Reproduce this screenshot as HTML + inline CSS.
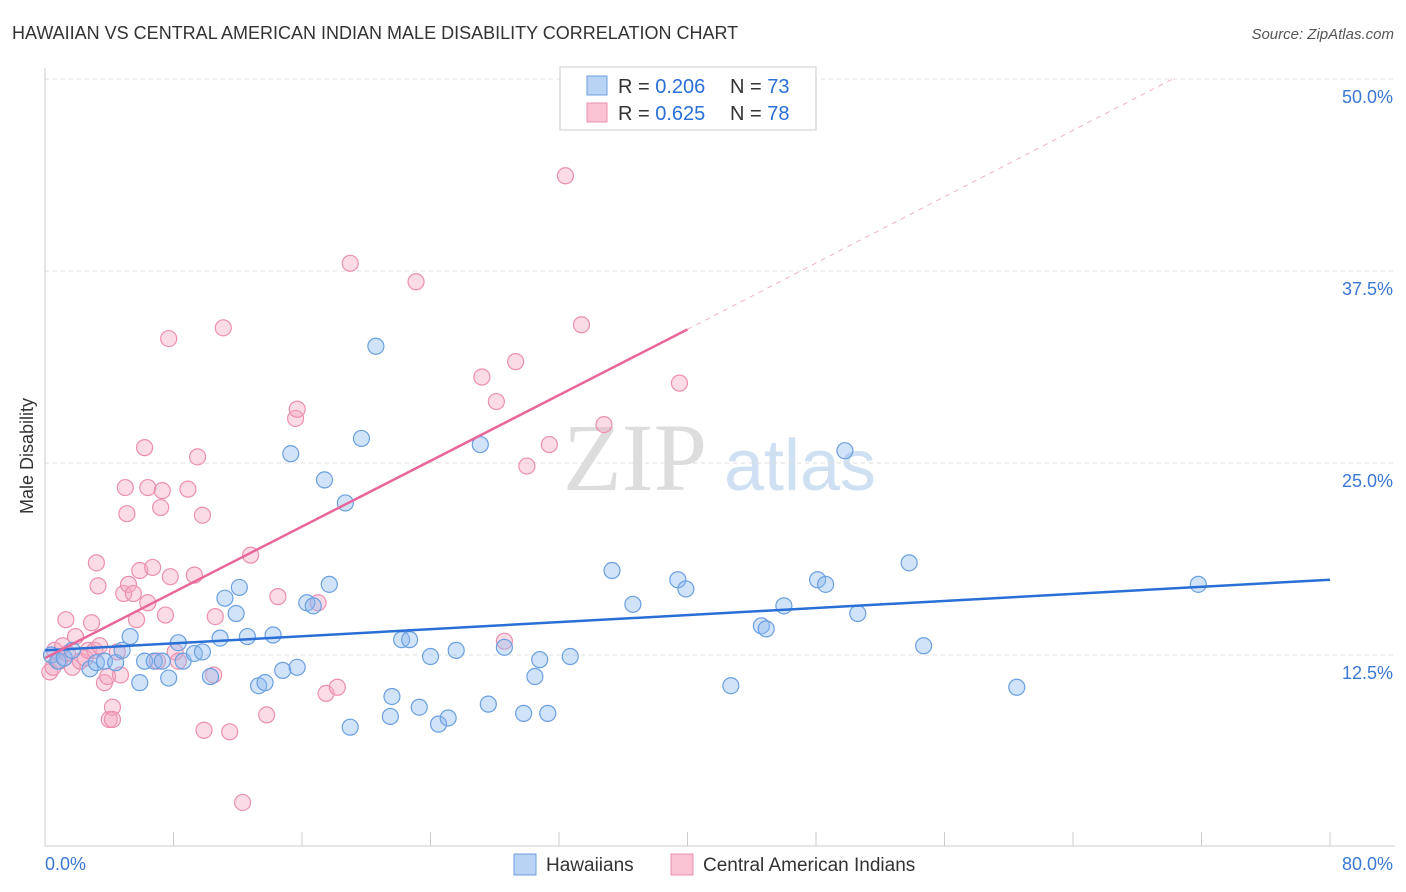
<!DOCTYPE html>
<html><head><meta charset="utf-8"><style>
body{margin:0;background:#fff;font-family:"Liberation Sans",sans-serif;}
svg{display:block}
</style></head><body>
<svg id="c" width="1406" height="892">
<text x="12" y="39" font-size="18" fill="#333">HAWAIIAN VS CENTRAL AMERICAN INDIAN MALE DISABILITY CORRELATION CHART</text>
<text x="1394" y="39" font-size="15" fill="#555" font-style="italic" text-anchor="end">Source: ZipAtlas.com</text>
<text x="33" y="456" font-size="18" fill="#333" transform="rotate(-90 33 456)" text-anchor="middle">Male Disability</text>
<g><text x="635" y="490" font-size="96" font-family="Liberation Serif" fill="#ddd" text-anchor="middle">ZIP</text><text x="800" y="490" font-size="72" fill="#cfe0f3" text-anchor="middle">atlas</text></g>
<g id="grid"></g><g id="pts"></g><g id="lines"></g>
<g>
<rect x="560" y="67" width="256" height="63" fill="#fff" stroke="#ccc"/>
<rect x="587" y="76" width="20" height="19" fill="#b9d3f5" stroke="#6a9fe0"/>
<rect x="587" y="103" width="20" height="19" fill="#f9c3d4" stroke="#ec8fb0"/>
<text x="618" y="93" font-size="20" fill="#333">R = <tspan fill="#2a6fd6">0.206</tspan>   <tspan x="730">N = </tspan><tspan fill="#2a6fd6">73</tspan></text>
<text x="618" y="120" font-size="20" fill="#333">R = <tspan fill="#2a6fd6">0.625</tspan>   <tspan x="730">N = </tspan><tspan fill="#2a6fd6">78</tspan></text>
</g>
<g>
<rect x="514" y="854" width="22" height="21" fill="#b9d3f5" stroke="#6a9fe0"/>
<text x="546" y="871" font-size="19" fill="#333">Hawaiians</text>
<rect x="671" y="854" width="22" height="21" fill="#f9c3d4" stroke="#ec8fb0"/>
<text x="703" y="871" font-size="19" fill="#333">Central American Indians</text>
</g>
</svg>
<script>
const blueX=[0.4,0.8,1.2,1.7,2.8,3.2,3.7,4.4,4.8,5.3,5.9,6.2,6.8,7.3,7.7,8.3,8.6,9.3,9.8,10.3,10.9,11.2,11.9,12.1,12.6,13.3,13.7,14.2,14.8,15.3,15.7,16.3,16.7,17.4,17.7,18.7,19.0,19.7,20.6,21.5,21.6,22.2,22.7,23.3,24.0,24.5,25.1,25.6,27.1,27.6,28.6,29.8,30.5,30.8,31.3,32.7,35.3,36.6,39.4,39.9,42.7,44.6,44.9,46.0,48.1,48.6,49.8,50.6,53.8,54.7,60.5,71.8];
const blueY=[12.5,12.1,12.3,12.8,11.6,12.0,12.1,12.0,12.8,13.7,10.7,12.1,12.1,12.1,11.0,13.3,12.1,12.6,12.7,11.1,13.6,16.2,15.2,16.9,13.7,10.5,10.7,13.8,11.5,25.6,11.7,15.9,15.7,23.9,17.1,22.4,7.8,26.6,32.6,8.5,9.8,13.5,13.5,9.1,12.4,8.0,8.4,12.8,26.2,9.3,13.0,8.7,11.1,12.2,8.7,12.4,18.0,15.8,17.4,16.8,10.5,14.4,14.2,15.7,17.4,17.1,25.8,15.2,18.5,13.1,10.4,17.1];
const pinkX=[0.3,0.5,0.6,0.9,1.1,1.3,1.4,1.7,1.9,2.2,2.5,2.7,2.9,3.1,3.2,3.3,3.4,3.7,3.9,4.0,4.2,4.2,4.5,4.7,4.9,5.0,5.1,5.2,5.5,5.7,5.9,6.2,6.4,6.4,6.7,7.0,7.2,7.3,7.5,7.7,7.8,8.1,8.3,8.9,9.3,9.5,9.8,9.9,10.5,10.6,11.1,11.5,12.8,13.8,14.5,15.6,15.7,17.0,17.5,18.2,19.0,23.1,27.2,28.1,28.6,29.3,30.0,31.4,32.4,33.4,34.8,39.5,12.3];
const pinkY=[11.4,11.7,12.8,12.1,13.1,14.8,12.6,11.7,13.7,12.1,12.3,12.8,14.6,12.8,18.5,17.0,13.1,10.7,11.1,8.3,9.1,8.3,12.7,11.2,16.5,23.4,21.7,17.1,16.5,14.8,18.0,26.0,15.9,23.4,18.2,12.1,22.1,23.2,15.1,33.1,17.6,12.7,12.1,23.3,17.7,25.4,21.6,7.6,11.2,15.0,33.8,7.5,19.0,8.6,16.3,27.9,28.5,15.9,10.0,10.4,38.0,36.8,30.6,29.0,13.4,31.6,24.8,26.2,43.7,34.0,27.5,30.2,2.9];
const blueLine=[12.8,17.4], pinkLine=[12.3,33.7], pinkDashEnd=[70.2,50.0];
const yTicks=[12.5,25.0,37.5,50.0];
const xS=v=>45+v/80*1285, yS=v=>847-v*15.36;
const NS='http://www.w3.org/2000/svg';
function mk(t,a,p){const e=document.createElementNS(NS,t);for(const k in a)e.setAttribute(k,a[k]);p.appendChild(e);return e;}
const g=document.getElementById('grid');
yTicks.forEach(t=>{
 const l=mk('line',{x1:45,x2:1395,y1:yS(t),y2:yS(t),stroke:'#ddd','stroke-dasharray':'4,4'},g);
 
 
 const tx=mk('text',{x:1393,y:yS(t)+24,'font-size':18,fill:'#3a78d4','text-anchor':'end'},g);
 tx.textContent=t.toFixed(1)+'%';
 
 
});
mk('line',{x1:45,x2:45,y1:68,y2:846,stroke:'#ccc'},g);
mk('line',{x1:45,x2:1395,y1:846,y2:846,stroke:'#ccc'},g);
for(let i=0;i<=10;i++){const l=mk('line',{x1:xS(i*8),x2:xS(i*8),y1:832,y2:846,stroke:'#ccc'},g);}
const x0=mk('text',{x:45,y:870,'font-size':18,fill:'#3a78d4'},g);x0.textContent='0.0%';

const x1=mk('text',{x:1393,y:870,'font-size':18,fill:'#3a78d4','text-anchor':'end'},g);x1.textContent='80.0%';

const p=document.getElementById('pts');
pinkX.forEach((x,i)=>{const c=mk('circle',{cx:xS(x),cy:yS(pinkY[i]),r:8,fill:'rgba(244,166,192,0.4)',stroke:'#ec8fb0','stroke-width':1.2},p);
 
 });
blueX.forEach((x,i)=>{const c=mk('circle',{cx:xS(x),cy:yS(blueY[i]),r:8,fill:'rgba(140,185,240,0.4)',stroke:'#6a9fe0','stroke-width':1.2},p);
 
 });
const L=document.getElementById('lines');
const bl=mk('line',{x1:xS(0),y1:yS(blueLine[0]),x2:xS(80),y2:yS(blueLine[1]),stroke:'#2a6fd6','stroke-width':2.5},L);

const pl=mk('line',{x1:xS(0),y1:yS(pinkLine[0]),x2:xS(40),y2:yS(pinkLine[1]),stroke:'#e8679a','stroke-width':2.5},L);

const pd=mk('line',{x1:xS(40),y1:yS(pinkLine[1]),x2:xS(pinkDashEnd[0]),y2:yS(pinkDashEnd[1]),stroke:'#efb0c8','stroke-width':1,'stroke-dasharray':'5,5'},L);

</script>
</body></html>
